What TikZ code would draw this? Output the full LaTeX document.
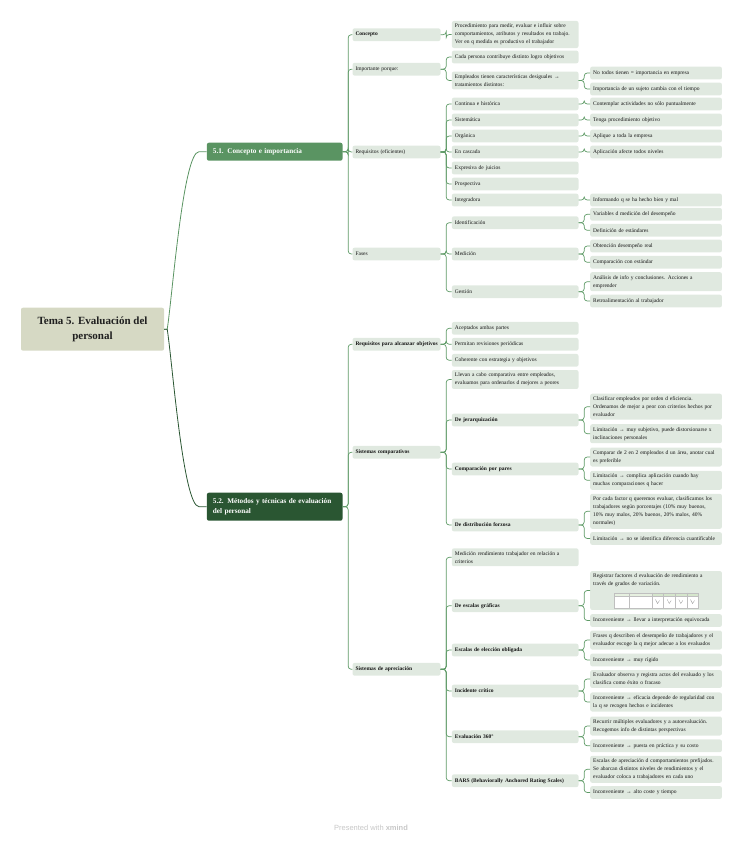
\documentclass[tikz,border=0pt]{standalone}
\usepackage{fontspec}
\setmainfont{Liberation Serif}
\newfontfamily\xsans{Liberation Sans}
\definecolor{rootfill}{HTML}{D6D9C4}
\definecolor{leaf}{HTML}{E0E9E0}
\definecolor{lonecol}{HTML}{5A9462}
\definecolor{ltwocol}{HTML}{2A5632}
\definecolor{linecol}{HTML}{5E9A66}
\definecolor{tabhead}{HTML}{D5E6CC}
\begin{document}
\begin{tikzpicture}[x=1pt,y=-1pt,
  box/.style={rectangle,rounded corners=2pt,fill=leaf,anchor=west,align=left,inner xsep=3pt,inner ysep=3pt,minimum height=12.7pt,text=black!92,font=\fontsize{5.5}{8}\selectfont},
  lvtwo/.style={box,text width=82pt},
  lvthree/.style={box,text width=120.6pt},
  lvfour/.style={box,text width=125.7pt},
  bf/.style={font=\fontsize{5.5}{8}\selectfont\bfseries},
  topic/.style={rectangle,rounded corners=2pt,anchor=west,text width=123.6pt,inner xsep=6pt,minimum height=18pt,align=left,text=white,font=\fontsize{7.2}{10}\selectfont\bfseries},
  conn/.style={draw=linecol,line width=0.7pt,rounded corners=3pt}]
\useasboundingbox (0,0) rectangle (743,848);
% centre and main topics
\node[rectangle,rounded corners=2pt,fill=rootfill,minimum width=143pt,minimum height=43pt,align=center,text=black!88,font=\fontsize{11}{15.5}\selectfont\bfseries] (tema) at (92.5,329.2) {Tema 5. Evaluación del\\personal};
\node[topic,fill=lonecol] (cim) at (206.7,151.7) {5.1. Concepto e importancia};
\node[topic,fill=ltwocol,minimum height=28pt] (met) at (206.7,506.7) {5.2. Métodos y técnicas de evaluación\\del personal};
\draw[draw=lonecol,line width=0.8pt] (tema.east) -- ++(3,0) .. controls (172,300) and (183,151.7) .. (199,151.7) -- (cim.west);
\draw[draw=ltwocol,line width=0.8pt] (tema.east) -- ++(3,0) .. controls (172,358) and (183,506.7) .. (199,506.7) -- (met.west);
% 5.1
\node[lvtwo,bf] (con) at (352.3,34.7) {Concepto};
\node[lvthree] (conA) at (451.7,34.5) {Procedimiento para medir, evaluar e influir sobre\\comportamientos, atributos y resultados en trabajo.\\Ver en q medida es productivo el trabajador};
\node[lvtwo] (imp) at (352.3,69.2) {Importante porque:};
\node[lvthree] (impA) at (451.7,57) {Cada persona contribuye distinto logro objetivos};
\node[lvthree] (impB) at (451.7,80.5) {Empleados tienen características desiguales →\\tratamientos distintos:};
\node[lvfour] (impB1) at (590,73) {No todos tienen = importancia en empresa};
\node[lvfour] (impB2) at (590,89) {Importancia de un sujeto cambia con el tiempo};
\node[lvtwo] (req) at (352.3,152) {Requisitos (eficientes)};
\node[lvthree] (reqA) at (451.7,104) {Continua e histórica};
\node[lvthree] (reqB) at (451.7,120) {Sistemática};
\node[lvthree] (reqC) at (451.7,136) {Orgánica};
\node[lvthree] (reqD) at (451.7,152) {En cascada};
\node[lvthree] (reqE) at (451.7,168) {Expresiva de juicios};
\node[lvthree] (reqF) at (451.7,184) {Prospectiva};
\node[lvthree] (reqG) at (451.7,200) {Integradora};
\node[lvfour] (reqA1) at (590,104) {Contemplar actividades no sólo puntualmente};
\node[lvfour] (reqB1) at (590,120) {Tenga procedimiento objetivo};
\node[lvfour] (reqC1) at (590,136) {Aplique a toda la empresa};
\node[lvfour] (reqD1) at (590,152) {Aplicación afecte todos niveles};
\node[lvfour] (reqG1) at (590,200) {Informando q se ha hecho bien y mal};
\node[lvtwo] (fas) at (352.3,254) {Fases};
\node[lvthree] (fasA) at (451.7,222.7) {Identificación};
\node[lvthree] (fasB) at (451.7,254) {Medición};
\node[lvthree] (fasC) at (451.7,291.7) {Gestión};
\node[lvfour] (fasA1) at (590,214.3) {Variables d medición del desempeño};
\node[lvfour] (fasA2) at (590,230.3) {Definición de estándares};
\node[lvfour] (fasB1) at (590,246) {Obtención desempeño real};
\node[lvfour] (fasB2) at (590,262.3) {Comparación con estándar};
\node[lvfour] (fasC1) at (590,281.7) {Análisis de info y conclusiones. Acciones a\\emprender};
\node[lvfour] (fasC2) at (590,301) {Retroalimentación al trabajador};
% 5.2
\node[lvtwo,bf] (rpa) at (352.3,344.3) {\mbox{Requisitos para alcanzar objetivos}};
\node[lvthree] (rpaA) at (451.7,328.3) {Aceptados ambas partes};
\node[lvthree] (rpaB) at (451.7,344.3) {Permitan revisiones periódicas};
\node[lvthree] (rpaC) at (451.7,360.3) {Coherente con estrategia y objetivos};
\node[lvtwo,bf] (sco) at (352.3,452.3) {Sistemas comparativos};
\node[lvthree] (scoA) at (451.7,379.5) {Llevan a cabo comparativa entre empleados,\\evaluamos para ordenarlos d mejores a peores};
\node[lvthree,bf] (scoB) at (451.7,420) {De jerarquización};
\node[lvthree,bf] (scoC) at (451.7,469) {Comparación por pares};
\node[lvthree,bf] (scoD) at (451.7,525) {De distribución forzosa};
\node[lvfour] (scoB1) at (590,406.7) {Clasificar empleados por orden d eficiencia.\\Ordenamos de mejor a peor con criterios hechos por\\evaluador};
\node[lvfour] (scoB2) at (590,433.7) {Limitación → muy subjetivo, puede distorsionarse x\\inclinaciones personales};
\node[lvfour] (scoC1) at (590,457) {Comparar de 2 en 2 empleados d un área, anotar cual\\es preferible};
\node[lvfour] (scoC2) at (590,480.3) {Limitación → complica aplicación cuando hay\\muchas comparaciones q hacer};
\node[lvfour] (scoD1) at (590,511.3) {Por cada factor q queremos evaluar, clasificamos los\\trabajadores según porcentajes (10\% muy buenos,\\10\% muy malos, 20\% buenos, 20\% malos, 40\%\\normales)};
\node[lvfour] (scoD2) at (590,538.5) {Limitación → no se identifica diferencia cuantificable};
\node[lvtwo,bf] (sap) at (352.3,669.3) {Sistemas de apreciación};
\node[lvthree] (sapA) at (451.7,557.3) {Medición rendimiento trabajador en relación a\\criterios};
\node[lvthree,bf] (sapB) at (451.7,605.7) {De escalas gráficas};
\node[lvthree,bf] (sapC) at (451.7,650) {Escalas de elección obligada};
\node[lvthree,bf] (sapD) at (451.7,691) {Incidente crítico};
\node[lvthree,bf] (sapE) at (451.7,736.7) {Evaluación 360°};
\node[lvthree,bf] (sapF) at (451.7,780.7) {BARS (Behaviorally Anchored Rating Scales)};
\node[lvfour] (sapB1) at (590,590.5) {Registrar factores d evaluación de rendimiento a\\través de grados de variación.\\\rule[-13pt]{0pt}{13pt}};
\node[lvfour] (sapB2) at (590,620.5) {Inconveniente → llevar a interpretación equivocada};
\node[lvfour] (sapC1) at (590,640) {Frases q describen el desempeño de trabajadores y el\\evaluador escoge la q mejor adecue a los evaluados};
\node[lvfour] (sapC2) at (590,660) {Inconveniente → muy rígido};
\node[lvfour] (sapD1) at (590,679) {Evaluador observa y registra actos del evaluado y los\\clasifica como éxito o fracaso};
\node[lvfour] (sapD2) at (590,702) {Inconveniente → eficacia depende de regularidad con\\la q se recogen hechos e incidentes};
\node[lvfour] (sapE1) at (590,726) {Recurrir múltiples evaluadores y a autoevaluación.\\Recogemos info de distintas perspectivas};
\node[lvfour] (sapE2) at (590,745.8) {Inconveniente → puesta en práctica y su costo};
\node[lvfour] (sapF1) at (590,769.3) {Escalas de apreciación d comportamientos prefijados.\\Se abarcan distintos niveles de rendimientos y el\\evaluador coloca a trabajadores en cada uno};
\node[lvfour] (sapF2) at (590,792.5) {Inconveniente → alto coste y tiempo};
% small table picture in the graphic scales note
\fill[white] (614.3,592.7) rectangle (698.3,607.7);
\fill[tabhead] (651.7,592.7) rectangle (698.3,596.5);
\fill[tabhead!60] (614.3,592.7) rectangle (651.7,596.5);
\draw[black!25,line width=0.2pt] (614.3,592.7) rectangle (698.3,607.7) (614.3,596.5) -- (698.3,596.5);
\foreach \x in {629,651.7,663.3,675,686.7} { \draw[black!25,line width=0.2pt] (\x,592.7) -- (\x,607.7); }
\foreach \x in {657.5,669.2,680.8,692.5} { \draw[black!45,line width=0.3pt] (\x-2,599.5) -- (\x,603.5) -- (\x+2,600.5); }
% connectors
\foreach \p/\c in {cim/con,cim/imp,cim/req,cim/fas,con/conA,imp/impA,imp/impB,impB/impB1,impB/impB2,
  req/reqA,req/reqB,req/reqC,req/reqD,req/reqE,req/reqF,req/reqG,reqA/reqA1,reqB/reqB1,reqC/reqC1,reqD/reqD1,reqG/reqG1,
  fas/fasA,fas/fasB,fas/fasC,fasA/fasA1,fasA/fasA2,fasB/fasB1,fasB/fasB2,fasC/fasC1,fasC/fasC2,
  met/rpa,met/sco,met/sap,rpa/rpaA,rpa/rpaB,rpa/rpaC,sco/scoA,sco/scoB,sco/scoC,sco/scoD,
  scoB/scoB1,scoB/scoB2,scoC/scoC1,scoC/scoC2,scoD/scoD1,scoD/scoD2,
  sap/sapA,sap/sapB,sap/sapC,sap/sapD,sap/sapE,sap/sapF,sapB/sapB1,sapB/sapB2,sapC/sapC1,sapC/sapC2,
  sapD/sapD1,sapD/sapD2,sapE/sapE1,sapE/sapE2,sapF/sapF1,sapF/sapF2}
  { \draw[conn] (\p.east) -- ++(5.5,0) |- (\c.west); }
\node[text=black!22,font=\xsans\fontsize{7.5}{9}\selectfont] (brand) at (371,828) {Presented with \textbf{xmind}};
\end{tikzpicture}
\end{document}
